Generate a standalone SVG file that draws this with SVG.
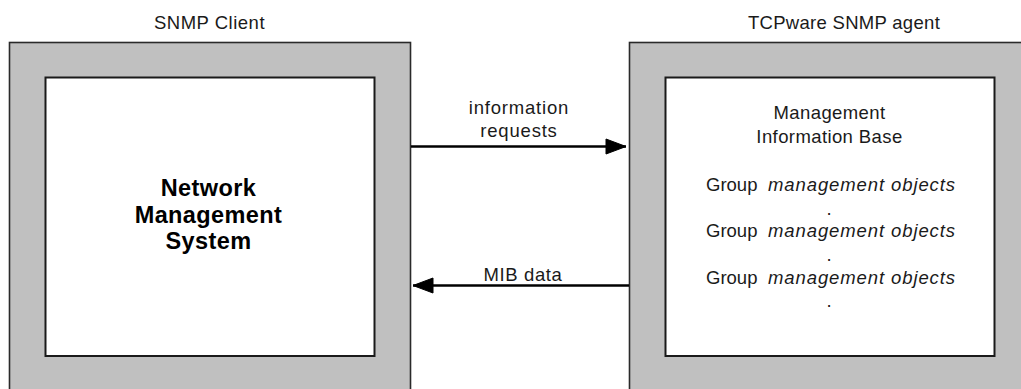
<svg xmlns="http://www.w3.org/2000/svg" width="1021" height="389" viewBox="0 0 1021 389">
  <style>
    .frame { fill: #c0c0c0; stroke: #2a2a2a; stroke-width: 1.6; }
    .panel { fill: #ffffff; stroke: #1a1a1a; stroke-width: 2; }
    .t { font-family: "Liberation Sans", Arial, sans-serif; font-size: 18.5px; fill: #1a1a1a; }
    .c { text-anchor: middle; }
    .it { font-style: italic; }
    .b { font-family: "Liberation Sans", Arial, sans-serif; font-size: 23.5px; font-weight: bold; fill: #000; text-anchor: middle; letter-spacing: 0.4px; }
    .flow { stroke: #000; stroke-width: 2.6; fill: none; }
  </style>
  <defs>
    <!-- solid wedge arrowhead -->
    <marker id="head" markerUnits="userSpaceOnUse" overflow="visible" markerWidth="22" markerHeight="16" refX="20" refY="8" orient="auto">
      <path d="M0,0.5 L20,8 L0,15.5 Z" fill="#000" stroke="#000" stroke-width="1" stroke-linejoin="round"/>
    </marker>
  </defs>
  <rect width="1021" height="389" fill="#ffffff"/>

  <!-- SNMP client -->
  <g id="snmp-client">
    <text class="t c" x="209.5" y="29" letter-spacing="0.5">SNMP Client</text>
    <rect class="frame" x="9.5" y="42.5" width="401" height="360"/>
    <rect class="panel" x="45.5" y="77.5" width="329" height="278.5"/>
    <text class="b" x="208.5" y="196">Network</text>
    <text class="b" x="208.5" y="222.5">Management</text>
    <text class="b" x="208.5" y="249">System</text>
  </g>

  <!-- TCPware SNMP agent -->
  <g id="snmp-agent">
    <text class="t c" x="844" y="29" letter-spacing="0.3">TCPware SNMP agent</text>
    <rect class="frame" x="629.5" y="42.5" width="400" height="360"/>
    <rect class="panel" x="665.5" y="77.5" width="329" height="278.5"/>
    <text class="t c" x="829.5" y="119" letter-spacing="0.4">Management</text>
    <text class="t c" x="829.5" y="143" letter-spacing="0.4">Information Base</text>
    <text class="t" x="706" y="190.5">Group</text>
    <text class="t it" x="768" y="190.5" textLength="187" lengthAdjust="spacing">management objects</text>
    <text class="t c" x="829" y="214.5">.</text>
    <text class="t" x="706" y="237">Group</text>
    <text class="t it" x="768" y="237" textLength="187" lengthAdjust="spacing">management objects</text>
    <text class="t c" x="829" y="261">.</text>
    <text class="t" x="706" y="283.5">Group</text>
    <text class="t it" x="768" y="283.5" textLength="187" lengthAdjust="spacing">management objects</text>
    <text class="t c" x="829" y="307">.</text>
  </g>

  <!-- connectors -->
  <g id="connectors">
    <line class="flow" x1="411" y1="146.5" x2="626" y2="146.5" marker-end="url(#head)"/>
    <text class="t c" x="519" y="114" letter-spacing="0.8">information</text>
    <text class="t c" x="519" y="136.5" letter-spacing="0.8">requests</text>
    <line class="flow" x1="629" y1="285.5" x2="413" y2="285.5" marker-end="url(#head)"/>
    <text class="t c" x="523" y="280.5" letter-spacing="0.6">MIB data</text>
  </g>
</svg>
